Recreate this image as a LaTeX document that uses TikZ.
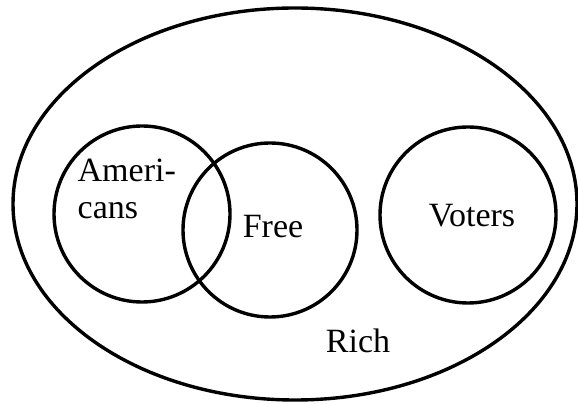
\documentclass[tikz,border=0pt]{standalone}
\usepackage{fontspec}
\setmainfont{Liberation Serif}
\usepackage{tikz}
\usetikzlibrary{shapes.geometric, positioning}

\begin{document}
\begin{tikzpicture}[x=1pt,y=1pt,line width=3.4pt,
                    set node/.style={circle,draw,minimum size=176pt,inner sep=0pt},
                    set label/.style={font=\fontsize{34}{38}\selectfont,inner sep=0pt}]

  \useasboundingbox (0,0) rectangle (578,404);

  \node[ellipse,draw,minimum width=564pt,minimum height=392pt,inner sep=0pt] (rich) at (295,200) {};
  \node[set node] (americans) at (142,190) {};
  \node[set node,minimum size=174pt] (free) at (270,174) {};
  \node[set node] (voters) at (468,189) {};

  \node[set label,anchor=base west] (ameri) at (76,222) {Ameri-};
  \node[set label,anchor=base west] (cans) at (76,185) {cans};
  \node[set label,anchor=base] (free text) at (273,166) {Free};
  \node[set label,anchor=base] (voters text) at (472,177) {Voters};
  \node[set label,anchor=base] (rich text) at (358,51) {Rich};
\end{tikzpicture}
\end{document}
